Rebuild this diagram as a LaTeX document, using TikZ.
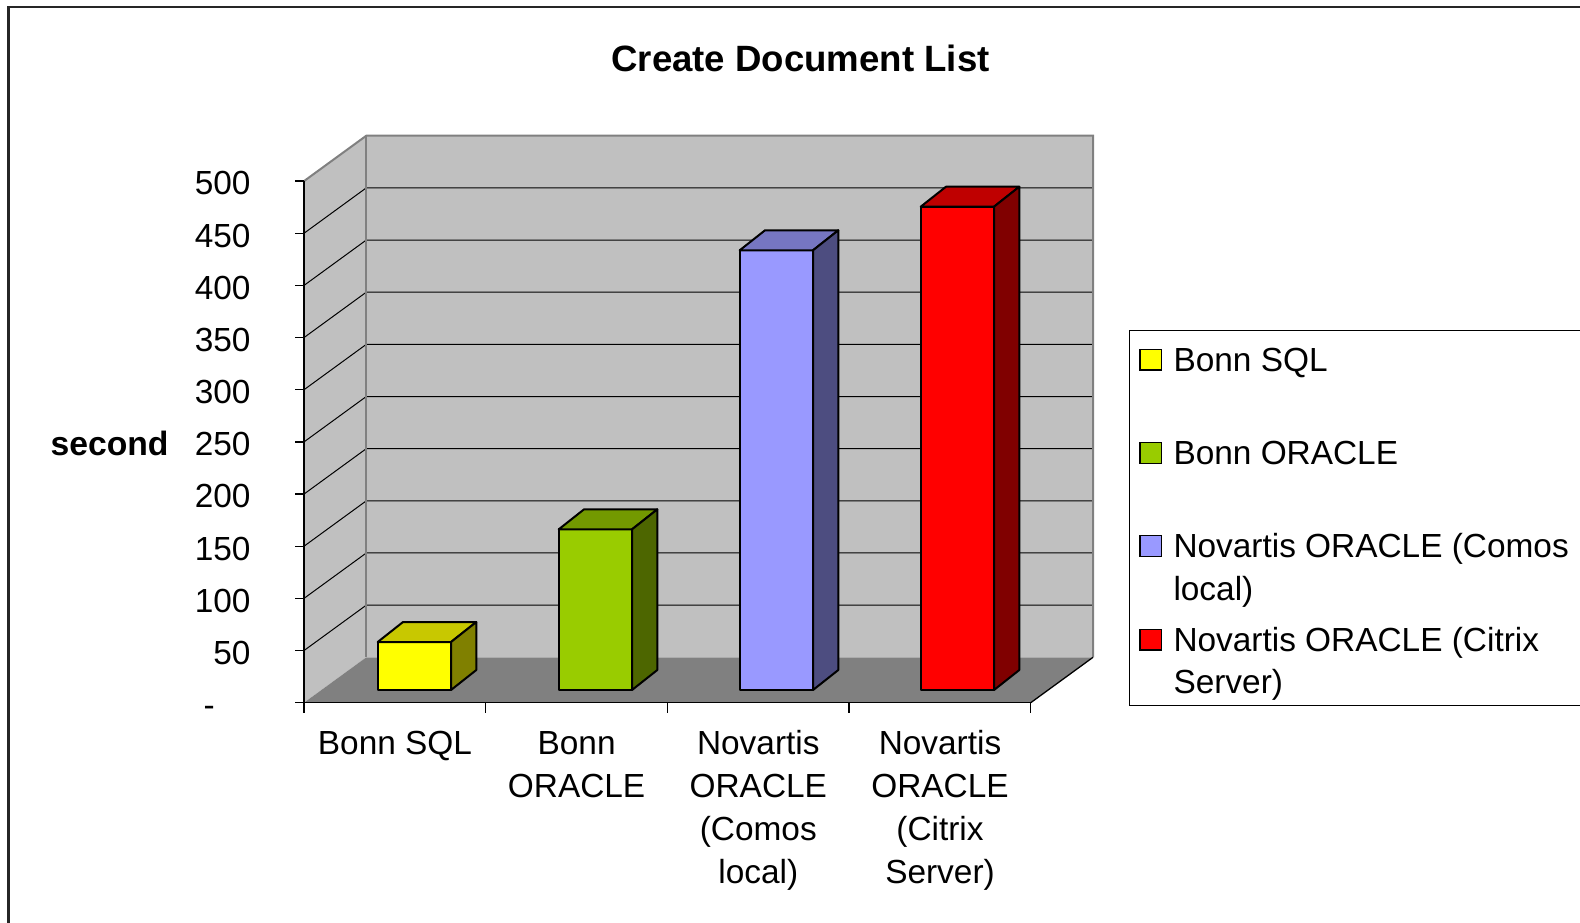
\documentclass[tikz,border=0pt]{standalone}
\usepackage{fontspec}
\setmainfont{Liberation Sans}
\definecolor{wallgray}{HTML}{C0C0C0}
\definecolor{floorgray}{HTML}{808080}
\definecolor{edgegray}{HTML}{808080}
\definecolor{ylwF}{HTML}{FFFF00}
\definecolor{ylwT}{HTML}{C8C800}
\definecolor{ylwS}{HTML}{808000}
\definecolor{grnF}{HTML}{99CC00}
\definecolor{grnT}{HTML}{739900}
\definecolor{grnS}{HTML}{4D6600}
\definecolor{bluF}{HTML}{9999FF}
\definecolor{bluT}{HTML}{7676C2}
\definecolor{bluS}{HTML}{4D4D80}
\definecolor{redF}{HTML}{FF0000}
\definecolor{redT}{HTML}{BF0000}
\definecolor{redS}{HTML}{800000}
\tikzset{
  lbl/.style={font=\fontsize{33.4}{43.3}\selectfont, inner sep=0pt},
  leglbl/.style={font=\fontsize{33.4}{42.8}\selectfont, inner sep=0pt, anchor=base west},
  gridline/.style={black, line width=1pt},
  walledge/.style={edgegray, line width=2pt},
  axisline/.style={black, line width=1.3pt},
  barline/.style={black, line width=2pt, line join=round},
  legsq/.style={black, line width=1.3pt},
}
\begin{document}
\begin{tikzpicture}[x=1pt,y=-1pt]
\useasboundingbox (0,0) rectangle (1580,922);
\clip (0,0) rectangle (1580,922);
% outer frame
\draw[black!85, line width=2.5pt] (8.7,940) -- (8.7,7) -- (1600,7);
% walls and floor
\fill[wallgray] (304,181.1) -- (366.3,135.7) -- (366.3,657.3) -- (304,702.7) -- cycle;
\fill[wallgray] (366.3,135.7) rectangle (1093,657.3);
\fill[floorgray] (304,702.7) -- (1030.7,702.7) -- (1093,657.3) -- (366.3,657.3) -- cycle;
\foreach \v in {50,100,...,450}{
  \draw[gridline] (304,{702.7-1.0432*\v}) -- (366.3,{657.3-1.0432*\v}) -- (1093,{657.3-1.0432*\v});
}
\draw[walledge] (304,181.1) -- (366.3,135.7) -- (1093,135.7) -- (1093,657.3);
\draw[walledge] (366.3,135.7) -- (366.3,657.3);
\draw[axisline] (1030.7,702.7) -- (1093,657.3);
% axes
\draw[axisline] (304,181.1) -- (304,702.7);
\draw[axisline] (295,702.7) -- (1030.7,702.7);
\foreach \v in {50,100,...,500}{
  \draw[axisline] (295,{702.7-1.0432*\v}) -- (304,{702.7-1.0432*\v});
  \node[lbl, anchor=base east] (yt\v) at (250.7,{716.5-1.0432*\v}) {\v};
}
\node[lbl, anchor=base east] (yt0) at (215,716.5) {-};
\foreach \i in {0,...,4}{
  \draw[axisline] ({304+181.67*\i},702.7) -- ({304+181.67*\i},713);
}
% bars
\foreach \i/\v/\cf/\ct/\cs in {0/46/ylwF/ylwT/ylwS, 1/154/grnF/grnT/grnS, 2/421.5/bluF/bluT/bluS, 3/463.3/redF/redT/redS}{
  \pgfmathsetmacro{\L}{377.7+181*\i}
  \pgfmathsetmacro{\R}{\L+73.3}
  \pgfmathsetmacro{\T}{690-1.0432*\v}
  \filldraw[barline, fill=\cf] (\L,690) rectangle (\R,\T);
  \filldraw[barline, fill=\ct] (\L,\T) -- (\R,\T) -- (\R+25.3,\T-20) -- (\L+25.3,\T-20) -- cycle;
  \filldraw[barline, fill=\cs] (\R,690) -- (\R,\T) -- (\R+25.3,\T-20) -- (\R+25.3,670) -- cycle;
}
% title and axis title
\node[font=\bfseries\fontsize{36.6}{44}\selectfont, inner sep=0pt, anchor=base] (title) at (800.5,71.6) {Create Document List};
\node[font=\bfseries\fontsize{33.7}{40}\selectfont, inner sep=0pt, anchor=base west] (ytitle) at (50.4,455) {second};
% category labels
\node[lbl, anchor=base] (c1) at (395,754) {\begin{tabular}[t]{@{}c@{}}Bonn SQL\end{tabular}};
\node[lbl, anchor=base] (c2) at (576.6,754) {\begin{tabular}[t]{@{}c@{}}Bonn\\ORACLE\end{tabular}};
\node[lbl, anchor=base] (c3) at (758.3,754) {\begin{tabular}[t]{@{}c@{}}Novartis\\ORACLE\\(Comos\\local)\end{tabular}};
\node[lbl, anchor=base] (c4) at (940,754) {\begin{tabular}[t]{@{}c@{}}Novartis\\ORACLE\\(Citrix\\Server)\end{tabular}};
% legend
\draw[black, line width=1.5pt] (1600,330.7) -- (1129.5,330.7) -- (1129.5,705.7) -- (1600,705.7);
\foreach \b/\c in {371/ylwF, 464.3/grnF, 557.3/bluF, 651/redF}{
  \filldraw[legsq, fill=\c] (1140,\b-21.7) rectangle (1161.7,\b-1);
}
\node[leglbl] (l1) at (1173.3,371) {Bonn SQL};
\node[leglbl] (l2) at (1173.3,464.3) {Bonn ORACLE};
\node[leglbl] (l3) at (1173.3,557.3) {\begin{tabular}[t]{@{}l@{}}Novartis ORACLE (Comos\\local)\end{tabular}};
\node[leglbl] (l4) at (1173.3,651) {\begin{tabular}[t]{@{}l@{}}Novartis ORACLE (Citrix\\Server)\end{tabular}};
\end{tikzpicture}
\end{document}
